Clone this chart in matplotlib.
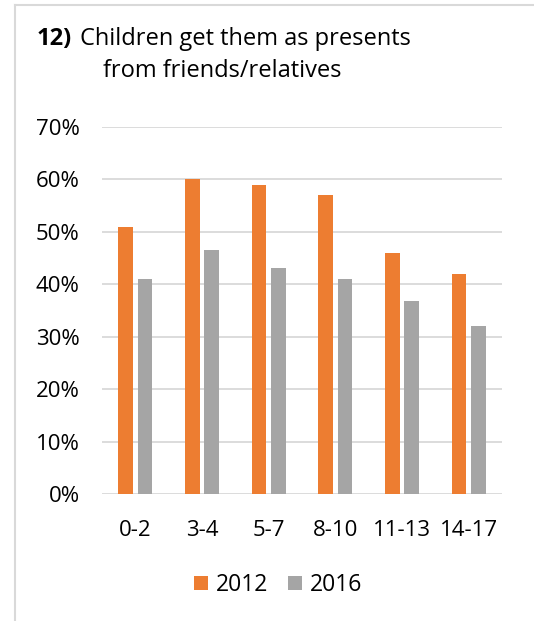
import numpy as np
import matplotlib.pyplot as plt
from matplotlib.lines import Line2D
from matplotlib.ticker import PercentFormatter

plt.rcParams['font.family'] = ['Open Sans', 'DejaVu Sans']

ages = ["0-2", "3-4", "5-7", "8-10", "11-13", "14-17"]
val_2012 = [0.51, 0.60, 0.59, 0.57, 0.46, 0.42]
val_2016 = [0.41, 0.465, 0.432, 0.411, 0.369, 0.321]
orange = "#ED7D31"
grey = "#A5A5A5"

W, H = 534, 621
fig = plt.figure(figsize=(W/100, H/100), dpi=100)
ax = fig.add_axes([102/W, 1-494/H, 400/W, 367/H])

x = np.arange(len(ages))
bw = 0.22
ax.bar(x-0.143, val_2012, bw, color=orange, label="2012", zorder=3)
ax.bar(x+0.143, val_2016, bw, color=grey, label="2016", zorder=3)

ax.set_xlim(-0.5, len(ages)-0.5)
ax.set_ylim(0, 0.7)
ax.set_yticks(np.arange(0, 0.71, 0.1))
ax.yaxis.set_major_formatter(PercentFormatter(1.0, decimals=0))
ax.set_xticks(x)
ax.set_xticklabels(ages)
ax.tick_params(length=0, labelsize=16, colors="#000000")
ax.tick_params(axis="x", pad=19)
ax.tick_params(axis="y", pad=16)
ax.grid(axis="y", color="#d9d9d9", linewidth=1.3, zorder=0)
for s in ax.spines.values():
    s.set_visible(False)

ax.legend(loc="center", bbox_to_anchor=(278/W, 1-585/H), bbox_transform=fig.transFigure,
          ncol=2, frameon=False, fontsize=16.5, handlelength=0.61, handleheight=0.61,
          handletextpad=0.35, columnspacing=0.87, borderpad=0)

# title
fig.text(37/W, 1-39/H, "12)", fontsize=17, fontweight="bold", va="center")
fig.text(80/W, 1-39/H, "Children get them as presents", fontsize=17, va="center")
fig.text(103/W, 1-71/H, "from friends/relatives", fontsize=17, va="center")

# chart area border
fig.add_artist(Line2D([15/W, 15/W], [0, 1-5/H], color="#d9d9d9", linewidth=1.5))
fig.add_artist(Line2D([15/W, 1], [1-5/H, 1-5/H], color="#d9d9d9", linewidth=1.5))

fig.savefig("out.png", dpi=100)
